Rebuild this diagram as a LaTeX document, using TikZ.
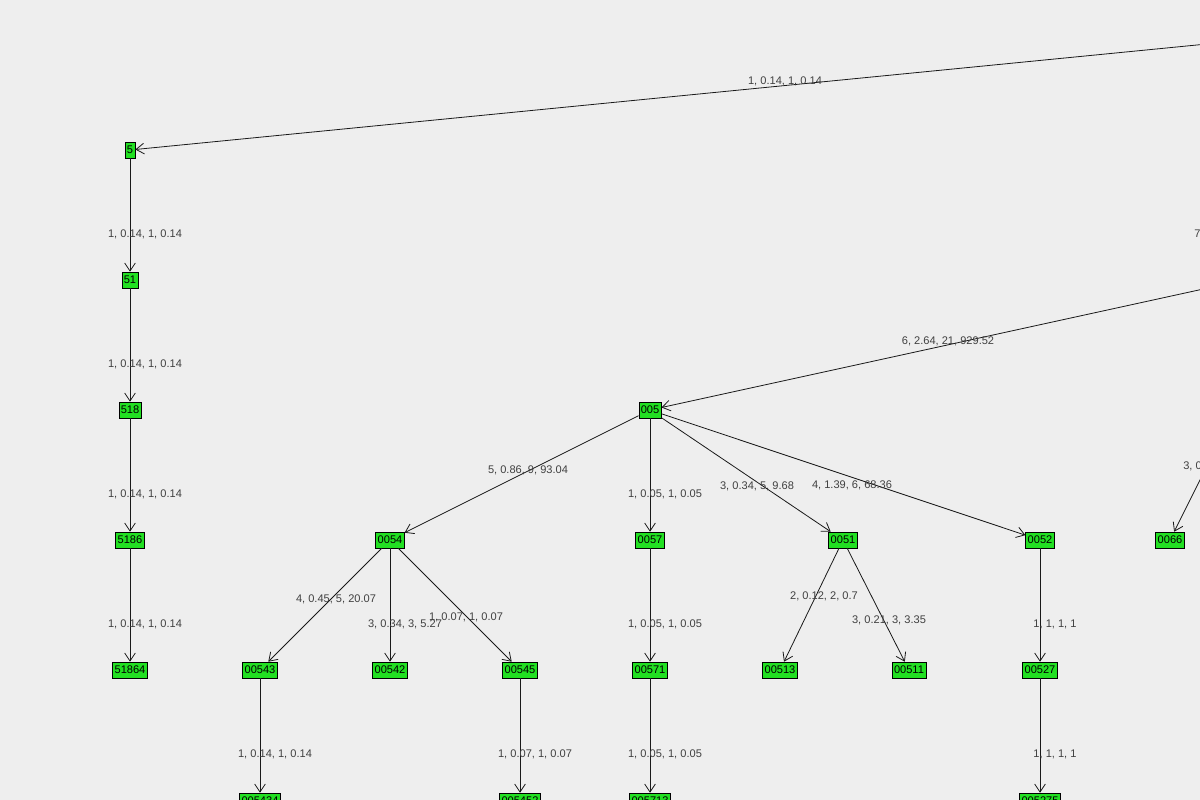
\documentclass[tikz,border=0pt]{standalone}
\usepackage{fontspec}
\setmainfont{Liberation Sans}
\usetikzlibrary{arrows.meta}
\definecolor{bgGray}{RGB}{238,238,238}
\definecolor{leafGreen}{RGB}{34,224,34}
\tikzset{
  vert/.style={draw=black, fill=leafGreen, inner xsep=1.5pt, inner ysep=1pt, minimum height=12pt, font=\fontsize{8.3}{9}\selectfont},
  lbl/.style={font=\fontsize{8.3}{9}\selectfont, text=black!75, inner sep=0pt},
  link/.style={draw=black!90, line width=0.6pt, -{Straight Barb[length=6pt,width=8pt]}}
}
\begin{document}
\begin{tikzpicture}[x=0.75pt, y=-0.75pt]
    \fill[bgGray] (0,0) rectangle (1200,800);
    \useasboundingbox (0,0) rectangle (1200,800);
    \clip (0,0) rectangle (1200,800);
    % parents outside the picture
    \coordinate (top) at (1400,25);
    \coordinate (mid) at (1400,246);
    \coordinate (rgt) at (1230,420);

    % level 1
    \node (n5) [vert] at (130,150) {5};
    \node (n005) [vert] at (650,410) {005};
    % left chain
    \node (n51) [vert] at (130,280) {51};
    \node (n518) [vert] at (130,410) {518};
    \node (n5186) [vert] at (130,540) {5186};
    \node (n51864) [vert] at (130,670) {51864};
    % children of 005
    \node (n0054) [vert] at (390,540) {0054};
    \node (n0057) [vert] at (650,540) {0057};
    \node (n0051) [vert] at (843,540) {0051};
    \node (n0052) [vert] at (1040,540) {0052};
    \node (n0066) [vert] at (1170,540) {0066};
    % next level
    \node (n00543) [vert] at (260,670) {00543};
    \node (n00542) [vert] at (390,670) {00542};
    \node (n00545) [vert] at (520,670) {00545};
    \node (n00571) [vert] at (650,670) {00571};
    \node (n00513) [vert] at (780,670) {00513};
    \node (n00511) [vert] at (909,670) {00511};
    \node (n00527) [vert] at (1040,670) {00527};
    % bottom row
    \node (n005434) [vert] at (260,801) {005434};
    \node (n005452) [vert] at (520,801) {005452};
    \node (n005713) [vert] at (650,801) {005713};
    \node (n005275) [vert] at (1040,801) {005275};

    \draw [link] (top) -- (n5);
    \draw [link] (mid) -- (n005);
    \draw [link] (rgt) -- (n0066);
    \draw [link] (n5) -- (n51);
    \draw [link] (n51) -- (n518);
    \draw [link] (n518) -- (n5186);
    \draw [link] (n5186) -- (n51864);
    \draw [link] (n005) -- (n0054);
    \draw [link] (n005) -- (n0057);
    \draw [link] (n005) -- (n0051);
    \draw [link] (n005) -- (n0052);
    \draw [link] (n0054) -- (n00543);
    \draw [link] (n0054) -- (n00542);
    \draw [link] (n0054) -- (n00545);
    \draw [link] (n0057) -- (n00571);
    \draw [link] (n0051) -- (n00513);
    \draw [link] (n0051) -- (n00511);
    \draw [link] (n0052) -- (n00527);
    \draw [link] (n00543) -- (n005434);
    \draw [link] (n00545) -- (n005452);
    \draw [link] (n00571) -- (n005713);
    \draw [link] (n00527) -- (n005275);

    % edge labels
    \node [lbl] at (785,81) {1, 0.14, 1, 0.14};
    \node [lbl, anchor=west] at (1194,234) {7};
    \node [lbl] at (948,341) {6, 2.64, 21, 929.52};
    \node [lbl, anchor=west] at (1183,466) {3, 0};
    \foreach \yy in {234,364,494,624}
      \node [lbl] at (145,\yy) {1, 0.14, 1, 0.14};
    \node [lbl] at (528,470) {5, 0.86, 9, 93.04};
    \foreach \yy in {494,624,754}
      \node [lbl] at (665,\yy) {1, 0.05, 1, 0.05};
    \node [lbl] at (757,486) {3, 0.34, 5, 9.68};
    \node [lbl] at (852,485) {4, 1.39, 6, 68.36};
    \node [lbl] at (336,599) {4, 0.45, 5, 20.07};
    \node [lbl] at (405,624) {3, 0.34, 3, 5.27};
    \node [lbl] at (466,617) {1, 0.07, 1, 0.07};
    \node [lbl] at (535,754) {1, 0.07, 1, 0.07};
    \node [lbl] at (275,754) {1, 0.14, 1, 0.14};
    \node [lbl] at (824,596) {2, 0.12, 2, 0.7};
    \node [lbl] at (889,620) {3, 0.21, 3, 3.35};
    \node [lbl] at (1055,624) {1, 1, 1, 1};
    \node [lbl] at (1055,754) {1, 1, 1, 1};
\end{tikzpicture}
\end{document}
